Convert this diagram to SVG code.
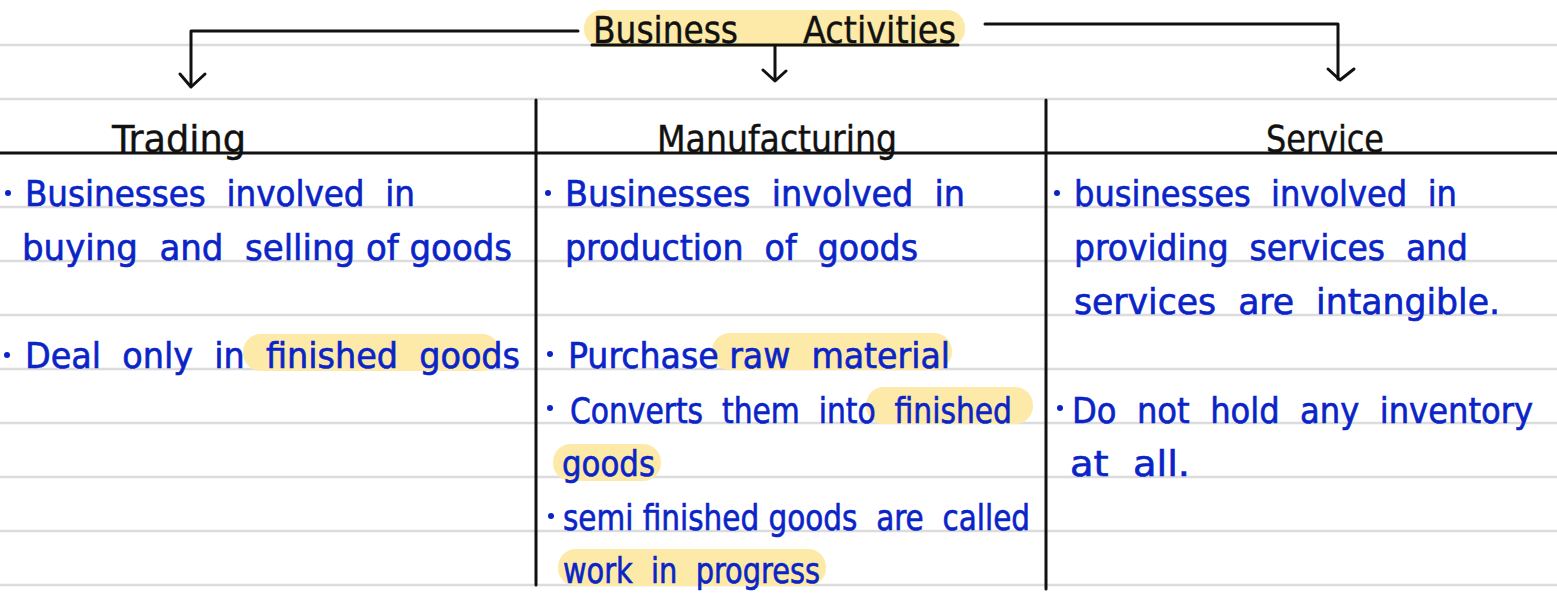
<svg xmlns="http://www.w3.org/2000/svg" width="1557" height="594" viewBox="0 0 1557 594" xml:space="preserve">
  <style>
    text { white-space: pre; }
    .rule { stroke: #dcdcdc; stroke-width: 2.5; }
    .ink { stroke: #111; stroke-width: 3; fill: none; stroke-linecap: round; stroke-linejoin: round; }
    .hl { fill: #fdeaa8; }
    .head { font-family: "DejaVu Sans Condensed", "Liberation Sans", sans-serif; font-size: 38px; fill: #111; stroke: #111; stroke-width: 0.4; }
    .note { font-family: "DejaVu Sans Condensed", "Liberation Sans", sans-serif; font-size: 36px; fill: #0a24c8; stroke: #0a24c8; stroke-width: 0.6; }
    .dot { fill: #0a24c8; }
  </style>
  <rect width="1557" height="594" fill="#ffffff"/>

  <!-- ruled paper -->
  <g id="paper">
    <line class="rule" x1="0" y1="45" x2="1557" y2="45"/>
    <line class="rule" x1="0" y1="99" x2="1557" y2="99"/>
    <line class="rule" x1="0" y1="207" x2="1557" y2="207"/>
    <line class="rule" x1="0" y1="261" x2="1557" y2="261"/>
    <line class="rule" x1="0" y1="315" x2="1557" y2="315"/>
    <line class="rule" x1="0" y1="369" x2="1557" y2="369"/>
    <line class="rule" x1="0" y1="423" x2="1557" y2="423"/>
    <line class="rule" x1="0" y1="477" x2="1557" y2="477"/>
    <line class="rule" x1="0" y1="531" x2="1557" y2="531"/>
    <line class="rule" x1="0" y1="585" x2="1557" y2="585"/>
  </g>

  <!-- highlighter strokes -->
  <g id="highlights">
    <rect class="hl" x="584" y="10" width="381" height="37" rx="18"/>
    <rect class="hl" x="243" y="334" width="257" height="37" rx="18"/>
    <rect class="hl" x="712" y="333" width="240" height="37" rx="18"/>
    <rect class="hl" x="866" y="387" width="167" height="37" rx="18"/>
    <rect class="hl" x="553" y="444" width="108" height="37" rx="18"/>
    <rect class="hl" x="558" y="549" width="268" height="37" rx="18"/>
  </g>

  <!-- table frame -->
  <g id="table">
    <line class="ink" x1="0" y1="153" x2="1557" y2="153"/>
    <line class="ink" x1="536" y1="100" x2="536" y2="585"/>
    <line class="ink" x1="1046" y1="100" x2="1046" y2="589"/>
  </g>

  <!-- connectors from the title -->
  <g id="connectors">
    <path class="ink" d="M578 31 H191 V86"/>
    <path class="ink" d="M180 74 L191 87 L205 74"/>
    <path class="ink" d="M775 46 V80"/>
    <path class="ink" d="M763 70 L775 81 L786 71"/>
    <path class="ink" d="M985 24 H1338 V79"/>
    <path class="ink" d="M1328 69 L1340 80 L1354 69"/>
  </g>

  <g id="title">
    <text class="head" x="593" y="43" textLength="145" lengthAdjust="spacingAndGlyphs">Business</text>
    <text class="head" x="803" y="43" textLength="153" lengthAdjust="spacingAndGlyphs">Activities</text>
    <line class="ink" x1="592" y1="45" x2="958" y2="45" stroke-width="2"/>
  </g>

  <g id="trading">
    <text class="head" x="112" y="152" textLength="134" lengthAdjust="spacingAndGlyphs">Trading</text>
    <circle class="dot" cx="8" cy="193" r="3"/>
    <text class="note" x="25" y="206" textLength="390" lengthAdjust="spacingAndGlyphs">Businesses  involved  in</text>
    <text class="note" x="22" y="260" textLength="490" lengthAdjust="spacingAndGlyphs">buying  and  selling of goods</text>
    <circle class="dot" cx="7" cy="355" r="3"/>
    <text class="note" x="25" y="368" textLength="495" lengthAdjust="spacingAndGlyphs">Deal  only  in  finished  goods</text>
  </g>

  <g id="manufacturing">
    <text class="head" x="657" y="152" textLength="240" lengthAdjust="spacingAndGlyphs">Manufacturing</text>
    <circle class="dot" cx="548" cy="193" r="3"/>
    <text class="note" x="565" y="206" textLength="400" lengthAdjust="spacingAndGlyphs">Businesses  involved  in</text>
    <text class="note" x="565" y="260" textLength="353" lengthAdjust="spacingAndGlyphs">production  of  goods</text>
    <circle class="dot" cx="550" cy="354" r="3"/>
    <text class="note" x="568" y="368" textLength="382" lengthAdjust="spacingAndGlyphs">Purchase raw  material</text>
    <circle class="dot" cx="550" cy="408" r="3"/>
    <text class="note" x="570" y="423" textLength="442" lengthAdjust="spacingAndGlyphs">Converts  them  into  finished</text>
    <text class="note" x="562" y="476" textLength="93" lengthAdjust="spacingAndGlyphs">goods</text>
    <circle class="dot" cx="551" cy="516" r="3"/>
    <text class="note" x="563" y="530" textLength="467" lengthAdjust="spacingAndGlyphs">semi finished goods  are  called</text>
    <text class="note" x="563" y="583" textLength="257" lengthAdjust="spacingAndGlyphs">work  in  progress</text>
  </g>

  <g id="service">
    <text class="head" x="1266" y="152" textLength="118" lengthAdjust="spacingAndGlyphs">Service</text>
    <circle class="dot" cx="1057" cy="193" r="3"/>
    <text class="note" x="1074" y="206" textLength="383" lengthAdjust="spacingAndGlyphs">businesses  involved  in</text>
    <text class="note" x="1074" y="260" textLength="394" lengthAdjust="spacingAndGlyphs">providing  services  and</text>
    <text class="note" x="1074" y="314" textLength="426" lengthAdjust="spacingAndGlyphs">services  are  intangible.</text>
    <circle class="dot" cx="1060" cy="408" r="3"/>
    <text class="note" x="1072" y="423" textLength="461" lengthAdjust="spacingAndGlyphs">Do  not  hold  any  inventory</text>
    <text class="note" x="1070" y="476" textLength="120" lengthAdjust="spacingAndGlyphs">at  all.</text>
  </g>
</svg>
